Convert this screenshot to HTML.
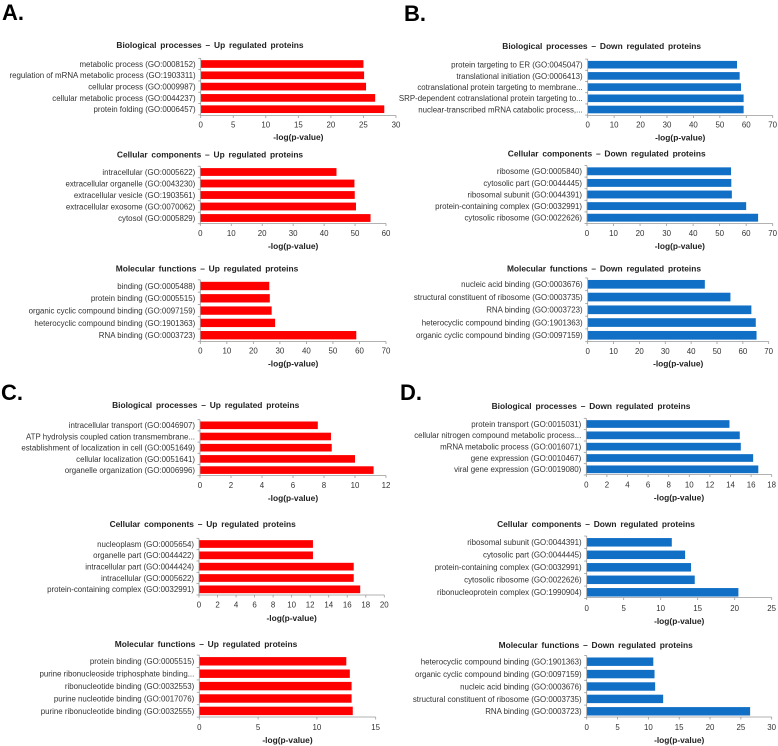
<!DOCTYPE html>
<html><head><meta charset="utf-8"><style>
html,body{margin:0;padding:0;background:#fff;}
svg{display:block;font-family:"Liberation Sans",Arial,sans-serif;}
</style></head><body>
<svg id="fig" width="778" height="746" viewBox="0 0 778 746">
<text x="2" y="20" font-size="22" font-weight="bold">A.</text>
<text x="404" y="21" font-size="22" font-weight="bold">B.</text>
<text x="1" y="400" font-size="22" font-weight="bold">C.</text>
<text x="400" y="400" font-size="22" font-weight="bold">D.</text>
</svg>
<script>
// ---- data ----
const a1Titles = "Biological processes – Up regulated proteins";
const a1Cats = ["metabolic process (GO:0008152)","regulation of mRNA metabolic process (GO:1903311)","cellular process (GO:0009987)","cellular metabolic process (GO:0044237)","protein folding (GO:0006457)"];
const a1Vals = [25, 25.1, 25.4, 26.8, 28.2];
const a1Ticks = [0,5,10,15,20,25,30];
const a2Titles = "Cellular components – Up regulated proteins";
const a2Cats = ["intracellular (GO:0005622)","extracellular organelle (GO:0043230)","extracellular vesicle (GO:1903561)","extracellular exosome (GO:0070062)","cytosol (GO:0005829)"];
const a2Vals = [44, 49.8, 49.9, 50.3, 55];
const a2Ticks = [0,10,20,30,40,50,60];
const a3Titles = "Molecular functions – Up regulated proteins";
const a3Cats = ["binding (GO:0005488)","protein binding (GO:0005515)","organic cyclic compound binding (GO:0097159)","heterocyclic compound binding (GO:1901363)","RNA binding (GO:0003723)"];
const a3Vals = [26, 26.2, 26.9, 28.2, 58.8];
const a3Ticks = [0,10,20,30,40,50,60,70];
const b1Titles = "Biological processes – Down regulated proteins";
const b1Cats = ["protein targeting to ER (GO:0045047)","translational initiation (GO:0006413)","cotranslational protein targeting to membrane...","SRP-dependent cotranslational protein targeting to...","nuclear-transcribed mRNA catabolic process,..."];
const b1Vals = [56.5, 57.5, 58, 59, 59];
const b1Ticks = [0,10,20,30,40,50,60,70];
const b2Titles = "Cellular components – Down regulated proteins";
const b2Cats = ["ribosome (GO:0005840)","cytosolic part (GO:0044445)","ribosomal subunit (GO:0044391)","protein-containing complex (GO:0032991)","cytosolic ribosome (GO:0022626)"];
const b2Vals = [54.3, 54.4, 54.6, 60, 64.5];
const b2Ticks = [0,10,20,30,40,50,60,70];
const b3Titles = "Molecular functions – Down regulated proteins";
const b3Cats = ["nucleic acid binding (GO:0003676)","structural constituent of ribosome (GO:0003735)","RNA binding (GO:0003723)","heterocyclic compound binding (GO:1901363)","organic cyclic compound binding (GO:0097159)"];
const b3Vals = [45.3, 55.2, 63.3, 65, 65.3];
const b3Ticks = [0,10,20,30,40,50,60,70];
const c1Titles = "Biological processes – Up regulated proteins";
const c1Cats = ["intracellular transport (GO:0046907)","ATP hydrolysis coupled cation transmembrane...","establishment of localization in cell (GO:0051649)","cellular localization (GO:0051641)","organelle organization (GO:0006996)"];
const c1Vals = [7.6, 8.45, 8.5, 10, 11.2];
const c1Ticks = [0,2,4,6,8,10,12];
const c2Titles = "Cellular components – Up regulated proteins";
const c2Cats = ["nucleoplasm (GO:0005654)","organelle part (GO:0044422)","intracellular part (GO:0044424)","intracellular (GO:0005622)","protein-containing complex (GO:0032991)"];
const c2Vals = [12.3, 12.3, 16.7, 16.7, 17.4];
const c2Ticks = [0,2,4,6,8,10,12,14,16,18,20];
const c3Titles = "Molecular functions – Up regulated proteins";
const c3Cats = ["protein binding (GO:0005515)","purine ribonucleoside triphosphate binding...","ribonucleotide binding (GO:0032553)","purine nucleotide binding (GO:0017076)","purine ribonucleotide binding (GO:0032555)"];
const c3Vals = [12.5, 12.8, 12.95, 12.95, 13.05];
const c3Ticks = [0,5,10,15];
const d1Titles = "Biological processes – Down regulated proteins";
const d1Cats = ["protein transport (GO:0015031)","cellular nitrogen compound metabolic process...","mRNA metabolic process (GO:0016071)","gene expression (GO:0010467)","viral gene expression (GO:0019080)"];
const d1Vals = [13.9, 14.9, 15, 16.2, 16.7];
const d1Ticks = [0,2,4,6,8,10,12,14,16,18];
const d2Titles = "Cellular components – Down regulated proteins";
const d2Cats = ["ribosomal subunit (GO:0044391)","cytosolic part (GO:0044445)","protein-containing complex (GO:0032991)","cytosolic ribosome (GO:0022626)","ribonucleoprotein complex (GO:1990904)"];
const d2Vals = [11.5, 13.3, 14.1, 14.6, 20.5];
const d2Ticks = [0,5,10,15,20,25];
const d3Titles = "Molecular functions – Down regulated proteins";
const d3Cats = ["heterocyclic compound binding (GO:1901363)","organic cyclic compound binding (GO:0097159)","nucleic acid binding (GO:0003676)","structural constituent of ribosome (GO:0003735)","RNA binding (GO:0003723)"];
const d3Vals = [10.8, 11, 11.1, 12.4, 26.5];
const d3Ticks = [0,5,10,15,20,25,30];

// ---- layout (positions only) ----
const RED="#ff0000", BLUE="#1170c6";
const layout = [
 {id:"a1",t:a1Titles,c:a1Cats,v:a1Vals,k:a1Ticks,x0:200.7,x1:396,y0:64,dy:11.3,ax:115.5,tk:124.5,xt:137,ty:45,tx:210,col:RED},
 {id:"a2",t:a2Titles,c:a2Cats,v:a2Vals,k:a2Ticks,x0:200.3,x1:386,y0:172,dy:11.5,ax:223.5,tk:233,xt:246,ty:154.5,tx:210,col:RED},
 {id:"a3",t:a3Titles,c:a3Cats,v:a3Vals,k:a3Ticks,x0:200.3,x1:386,y0:286,dy:12.3,ax:341.5,tk:350.5,xt:363.5,ty:268.5,tx:207,col:RED},
 {id:"b1",t:b1Titles,c:b1Cats,v:b1Vals,k:b1Ticks,x0:587.7,x1:772.7,y0:64.7,dy:11.2,ax:115.5,tk:124.5,xt:137.5,ty:46,tx:601.7,col:BLUE},
 {id:"b2",t:b2Titles,c:b2Cats,v:b2Vals,k:b2Ticks,x0:587,x1:772.7,y0:171.3,dy:11.6,ax:223.5,tk:233,xt:246,ty:153.5,tx:606.7,col:BLUE},
 {id:"b3",t:b3Titles,c:b3Cats,v:b3Vals,k:b3Ticks,x0:587.7,x1:768.7,y0:284.3,dy:12.75,ax:341.5,tk:351,xt:363.5,ty:268.5,tx:604,col:BLUE},
 {id:"c1",t:c1Titles,c:c1Cats,v:c1Vals,k:c1Ticks,x0:200,x1:386,y0:425.3,dy:11.2,ax:475.5,tk:485,xt:498,ty:405,tx:205.7,col:RED},
 {id:"c2",t:c2Titles,c:c2Cats,v:c2Vals,k:c2Ticks,x0:199,x1:384.3,y0:544,dy:11.33,ax:595,tk:604.5,xt:618,ty:524,tx:202.7,col:RED},
 {id:"c3",t:c3Titles,c:c3Cats,v:c3Vals,k:c3Ticks,x0:199.3,x1:375.7,y0:661.3,dy:12.4,ax:717,tk:727,xt:740,ty:644,tx:206,col:RED},
 {id:"d1",t:d1Titles,c:d1Cats,v:d1Vals,k:d1Ticks,x0:586.3,x1:771.7,y0:424,dy:11.33,ax:474.5,tk:484.5,xt:497.5,ty:406,tx:591,col:BLUE},
 {id:"d2",t:d2Titles,c:d2Cats,v:d2Vals,k:d2Ticks,x0:586.7,x1:771.7,y0:542.3,dy:12.5,ax:597.5,tk:608,xt:621,ty:524,tx:596,col:BLUE},
 {id:"d3",t:d3Titles,c:d3Cats,v:d3Vals,k:d3Ticks,x0:586.7,x1:771.7,y0:661.7,dy:12.4,ax:717,tk:727,xt:740,ty:645,tx:595.7,col:BLUE}
];
const NS="http://www.w3.org/2000/svg";
const svg=document.getElementById("fig");
function mk(tag,attrs,parent){const e=document.createElementNS(NS,tag);for(const k in attrs)e.setAttribute(k,attrs[k]);(parent||svg).appendChild(e);return e;}
layout.forEach(p=>{
  const g=mk("g",{});
  
  
  const max=p.k[p.k.length-1];
  const sx=v=>p.x0+(v/max)*(p.x1-p.x0);
  const sy=i=>p.y0+i*p.dy;
  const bh=p.dy*0.68;
  const t=mk("text",{x:p.tx,y:p.ty+3,"font-size":"8.4","font-weight":"bold","text-anchor":"middle","word-spacing":"1.5",fill:"#222"},g);
  t.textContent=p.t;
  
  
  p.v.forEach((v,i)=>{
    const r=mk("rect",{x:sx(0),y:sy(i)-bh/2,width:sx(v)-sx(0),height:bh,fill:p.col},g);
    
    
    const l=mk("text",{x:p.x0-5,y:sy(i)+2.9,"font-size":"7.9","text-anchor":"end",fill:"#333"},g);
    l.textContent=p.c[i];
    
    
  });
  const top=sy(0)-p.dy/2;
  const ya=mk("line",{x1:p.x0,y1:top,x2:p.x0,y2:p.ax,stroke:"#999","stroke-width":"0.8"},g);
  
  
  for(let i=0;i<=p.c.length;i++){
    const ty=top+i*p.dy;
    mk("line",{x1:p.x0-2.5,y1:ty,x2:p.x0,y2:ty,stroke:"#999","stroke-width":"0.8"},g);
  }
  const xa=mk("line",{x1:p.x0,y1:p.ax,x2:p.x1,y2:p.ax,stroke:"#999","stroke-width":"0.8"},g);
  
  
  p.k.forEach(k=>{
    mk("line",{x1:sx(k),y1:p.ax,x2:sx(k),y2:p.ax+2.5,stroke:"#999","stroke-width":"0.8"},g);
    const tl=mk("text",{x:sx(k),y:p.tk+3,"font-size":"7.9","text-anchor":"middle",fill:"#333"},g);
    tl.textContent=k;
    
    
  });
  const xt=mk("text",{x:(p.x0+p.x1)/2,y:p.xt+3,"font-size":"8.4","font-weight":"bold","text-anchor":"middle",fill:"#222"},g);
  xt.textContent="-log(p-value)";
  
  
});
</script>
</body></html>
